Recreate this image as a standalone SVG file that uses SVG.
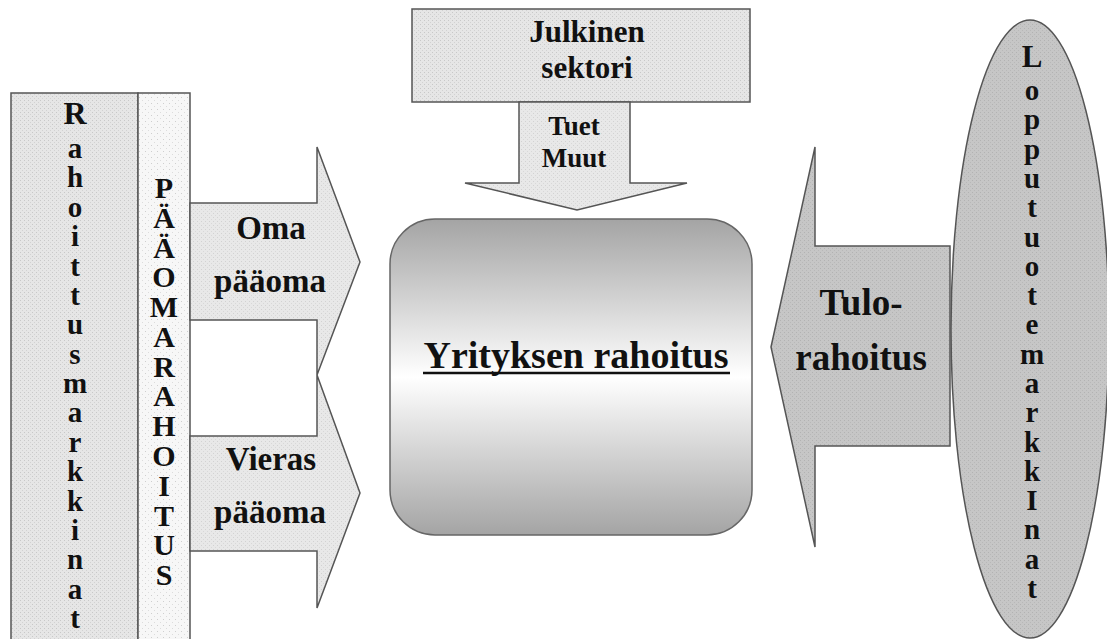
<svg xmlns="http://www.w3.org/2000/svg" width="1107" height="639" viewBox="0 0 1107 639">
<defs>
<pattern id="dotL" width="4" height="4" patternUnits="userSpaceOnUse"><rect width="4" height="4" fill="#e6e6e6"/><rect x="0" y="0" width="1" height="1" fill="#c8c8c8"/><rect x="2" y="2" width="1" height="1" fill="#d2d2d2"/></pattern>
<pattern id="dotW" width="6" height="6" patternUnits="userSpaceOnUse"><rect width="6" height="6" fill="#f7f7f7"/><rect x="1" y="1" width="1" height="1" fill="#cfcfcf"/><rect x="4" y="4" width="1" height="1" fill="#dcdcdc"/></pattern>
<pattern id="dotA" width="4" height="4" patternUnits="userSpaceOnUse"><rect width="4" height="4" fill="#e8e8e8"/><rect x="1" y="1" width="1" height="1" fill="#d2d2d2"/><rect x="3" y="3" width="1" height="1" fill="#d8d8d8"/></pattern>
<pattern id="dotG" width="4" height="4" patternUnits="userSpaceOnUse"><rect width="4" height="4" fill="#c6c6c6"/><rect x="0" y="0" width="1" height="1" fill="#b2b2b2"/><rect x="2" y="2" width="1" height="1" fill="#b8b8b8"/></pattern>
<linearGradient id="grad" x1="0" y1="0" x2="0" y2="1">
<stop offset="0" stop-color="#a4a4a4"/>
<stop offset="0.5" stop-color="#ffffff"/>
<stop offset="1" stop-color="#a4a4a4"/>
</linearGradient>
</defs>
<style>
.sh{stroke:#555;stroke-width:1.5;stroke-linejoin:miter}
.t{font-family:"Liberation Serif","Times New Roman",serif;font-weight:bold;fill:#111;text-anchor:middle}
</style>
<rect width="1107" height="639" fill="#ffffff"/>

<g id="rahoitusmarkkinat">
<rect class="sh" x="11" y="93" width="127" height="560" fill="url(#dotL)"/>
<text class="t" font-size="32" x="75" y="124">R</text>
<text class="t" font-size="29">
<tspan x="75" y="158">a</tspan><tspan x="75" y="187.4">h</tspan><tspan x="75" y="216.8">o</tspan><tspan x="75" y="246.1">i</tspan><tspan x="75" y="275.5">t</tspan><tspan x="75" y="304.9">t</tspan><tspan x="75" y="334.3">u</tspan><tspan x="75" y="363.6">s</tspan><tspan x="75" y="393">m</tspan><tspan x="75" y="422.4">a</tspan><tspan x="75" y="451.8">r</tspan><tspan x="75" y="481.1">k</tspan><tspan x="75" y="510.5">k</tspan><tspan x="75" y="539.9">i</tspan><tspan x="75" y="569.3">n</tspan><tspan x="75" y="598.6">a</tspan><tspan x="75" y="628">t</tspan>
</text>
</g>

<g id="paaomarahoitus">
<rect class="sh" x="138" y="93" width="52" height="560" fill="url(#dotW)"/>
<text class="t" font-size="30">
<tspan x="164" y="198">P</tspan><tspan x="164" y="227.8">Ä</tspan><tspan x="164" y="257.5">Ä</tspan><tspan x="164" y="287.3">O</tspan><tspan x="164" y="317.1">M</tspan><tspan x="164" y="346.9">A</tspan><tspan x="164" y="376.6">R</tspan><tspan x="164" y="406.4">A</tspan><tspan x="164" y="436.2">H</tspan><tspan x="164" y="465.9">O</tspan><tspan x="164" y="495.7">I</tspan><tspan x="164" y="525.5">T</tspan><tspan x="164" y="555.2">U</tspan><tspan x="164" y="585">S</tspan>
</text>
</g>

<g id="julkinen-sektori">
<rect class="sh" x="412" y="9" width="338" height="93" fill="url(#dotL)"/>
<text class="t" font-size="31" x="587" y="42">Julkinen</text>
<text class="t" font-size="31" x="587" y="78">sektori</text>
</g>

<g id="lopputuotemarkkinat">
<ellipse class="sh" cx="1030" cy="329" rx="79" ry="309" fill="url(#dotG)"/>
<text class="t" font-size="31" x="1032" y="67">L</text>
<text class="t" font-size="29">
<tspan x="1032" y="100">o</tspan><tspan x="1032" y="129.3">p</tspan><tspan x="1032" y="158.6">p</tspan><tspan x="1032" y="187.9">u</tspan><tspan x="1032" y="217.2">t</tspan><tspan x="1032" y="246.5">u</tspan><tspan x="1032" y="275.8">o</tspan><tspan x="1032" y="305.1">t</tspan><tspan x="1032" y="334.4">e</tspan><tspan x="1032" y="363.6">m</tspan><tspan x="1032" y="392.9">a</tspan><tspan x="1032" y="422.2">r</tspan><tspan x="1032" y="451.5">k</tspan><tspan x="1032" y="480.8">k</tspan><tspan x="1032" y="510.1">I</tspan><tspan x="1032" y="539.4">n</tspan><tspan x="1032" y="568.7">a</tspan><tspan x="1032" y="598">t</tspan>
</text>
</g>

<g id="yrityksen-rahoitus">
<rect x="390" y="219" width="362" height="316" rx="45" ry="45" fill="url(#grad)" stroke="#666" stroke-width="1.5"/>
<text class="t" font-size="38" x="576" y="368">Yrityksen rahoitus</text>
<line x1="423" y1="373" x2="730" y2="373" stroke="#111" stroke-width="2.5"/>
</g>

<g id="connectors">
<g id="oma-paaoma">
<polygon class="sh" points="190,203 317,203 317,147 360,262 317,375 317,320 190,320" fill="url(#dotA)"/>
<text class="t" font-size="33" x="271" y="239">Oma</text>
<text class="t" font-size="33" x="270" y="292">pääoma</text>
</g>
<g id="vieras-paaoma">
<polygon class="sh" points="190,436 317,436 317,375 360,493 317,608 317,551 190,551" fill="url(#dotA)"/>
<text class="t" font-size="33" x="271" y="470">Vieras</text>
<text class="t" font-size="33" x="270" y="523">pääoma</text>
</g>
<g id="tuet-muut">
<polygon class="sh" points="519,102 630,102 630,183 687,183 577,210 465,183 519,183" fill="url(#dotA)"/>
<text class="t" font-size="27" x="574" y="135">Tuet</text>
<text class="t" font-size="27" x="574" y="167">Muut</text>
</g>
<g id="tulorahoitus">
<polygon class="sh" points="771,347 815,147 815,246 950,246 950,446 815,446 815,547" fill="url(#dotG)"/>
<text class="t" font-size="37" x="861" y="315">Tulo-</text>
<text class="t" font-size="37" x="861" y="370">rahoitus</text>
</g>
</g>
</svg>
